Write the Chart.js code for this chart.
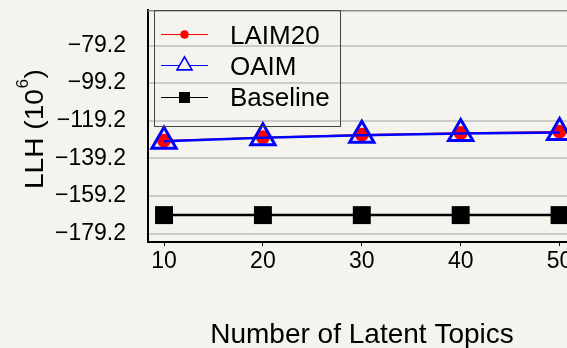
<!DOCTYPE html>
<html><head><meta charset="utf-8">
<script src="https://cdn.jsdelivr.net/npm/chart.js@4/dist/chart.umd.min.js"></script>
<style>
html,body{margin:0;padding:0;background:#f4f3ee;overflow:hidden;width:567px;height:348px}
#wrap{position:relative;width:578px;height:348px}
canvas{display:block}
</style></head><body>
<div id="wrap"><canvas id="c" width="578" height="348"></canvas></div>
<script>
const categories = [10, 20, 30, 40, 50];
const laim20 = [-129.8, -128.0, -126.6, -125.7, -125.0];
const oaim = [-130.1, -128.3, -126.9, -126.0, -125.4];
const baseline = [-169.4, -169.4, -169.4, -169.4, -169.4];
const yTickValues = [-179.2, -159.2, -139.2, -119.2, -99.2, -79.2];
const seriesNames = ['LAIM20', 'OAIM', 'Baseline'];
const xTitle = 'Number of Latent Topics';
const yTitleMain = 'LLH (10';
const yTitleSup = '6';
const yTitleEnd = ')';

const FONT = '"Liberation Sans", Arial, Helvetica, sans-serif';
const toXY = arr => categories.map((c, i) => ({x: c, y: arr[i]}));
const fmt = v => (v < 0 ? '\u2212' : '') + Math.abs(v).toFixed(1);

const styles = [
  {color: '#ff0000', lw: 1.2, ps: 'circle', pr: 7, bg: '#ff0000', pbw: 0, lr: 4.3, lbw: 0, order: 1},
  {color: '#0000ff', lw: 2.5, ps: 'triangle', pr: 14, bg: 'rgba(0,0,0,0)', pbw: 3, lr: 8.7, lbw: 1.6, order: 0},
  {color: '#000000', lw: 2.5, ps: 'rect', pr: 12.7, bg: '#000000', pbw: 0, lr: 7.8, lbw: 0, order: 2}
];
const seriesData = [laim20, oaim, baseline];

function marker(ctx, type, x, y, r, fill, stroke, bw) {
  ctx.beginPath();
  if (type === 'circle') {
    ctx.arc(x, y, r, 0, Math.PI * 2);
  } else if (type === 'triangle') {
    for (let k = 0; k < 3; k++) {
      const a = k * 2 * Math.PI / 3;
      const px = x + Math.sin(a) * r, py = y - Math.cos(a) * r;
      k ? ctx.lineTo(px, py) : ctx.moveTo(px, py);
    }
    ctx.closePath();
  } else {
    const s = r * Math.SQRT1_2;
    ctx.rect(x - s, y - s, 2 * s, 2 * s);
  }
  if (fill) { ctx.fillStyle = fill; ctx.fill(); }
  if (bw) { ctx.lineWidth = bw; ctx.strokeStyle = stroke; ctx.stroke(); }
}

const decor = {
  id: 'decor',
  afterDraw(chart) {
    const ctx = chart.ctx, a = chart.chartArea;
    ctx.save();
    // top frame line
    ctx.strokeStyle = '#8c8c8c'; ctx.lineWidth = 1.5;
    ctx.beginPath(); ctx.moveTo(a.left, a.top + 0.75); ctx.lineTo(a.right, a.top + 0.75); ctx.stroke();
    // legend box
    ctx.strokeStyle = '#444'; ctx.lineWidth = 1;
    ctx.strokeRect(154.5, 10.5, 186, 116);
    const rows = [34, 65, 97], bases = [44.3, 75, 106];
    ctx.font = '26px ' + FONT; ctx.textBaseline = 'alphabetic'; ctx.textAlign = 'left';
    seriesNames.forEach((n, i) => {
      const s = styles[i];
      ctx.strokeStyle = s.color; ctx.lineWidth = 1;
      ctx.beginPath(); ctx.moveTo(161, rows[i] + 0.5); ctx.lineTo(208, rows[i] + 0.5); ctx.stroke();
      marker(ctx, s.ps, 184.5, rows[i] + 0.5, s.lr, s.ps === 'triangle' ? '#f4f3ee' : s.bg, s.color, s.lbw);
      ctx.fillStyle = '#000';
      ctx.fillText(n, 230, bases[i]);
    });
    // x title
    ctx.font = '28px ' + FONT; ctx.textAlign = 'center'; ctx.fillStyle = '#000';
    ctx.fillText(xTitle, 362, 343);
    // y title rotated with superscript
    ctx.translate(43.3, 189);
    ctx.rotate(-Math.PI / 2);
    ctx.scale(1.08, 1);
    ctx.textAlign = 'left';
    ctx.font = '26px ' + FONT;
    const w1 = ctx.measureText(yTitleMain).width;
    ctx.fillText(yTitleMain, 0, 0);
    ctx.font = '16px ' + FONT;
    const w2 = ctx.measureText(yTitleSup).width;
    ctx.fillText(yTitleSup, w1 + 0.5, -15);
    ctx.font = '26px ' + FONT;
    ctx.fillText(yTitleEnd, w1 + w2 + 1, 0);
    ctx.restore();
  }
};

new Chart(document.getElementById('c'), {
  type: 'line',
  data: {
    datasets: seriesNames.map((n, i) => ({
      label: n,
      data: toXY(seriesData[i]),
      borderColor: styles[i].color,
      borderWidth: styles[i].lw,
      pointStyle: styles[i].ps,
      pointRadius: styles[i].pr,
      pointBackgroundColor: styles[i].bg,
      pointBorderColor: styles[i].color,
      pointBorderWidth: styles[i].pbw,
      tension: 0,
      fill: false,
      clip: false,
      order: styles[i].order
    }))
  },
  options: {
    responsive: false,
    devicePixelRatio: 1,
    animation: false,
    layout: {autoPadding: false, padding: {top: 10, right: 2, left: 0, bottom: 0}},
    plugins: {legend: {display: false}, tooltip: {enabled: false}},
    scales: {
      x: {
        type: 'linear',
        min: 8.38, max: 51.66,
        afterFit: s => { s.height = 106; s.paddingLeft = 0; s.paddingRight = 0; },
        afterBuildTicks: s => { s.ticks = categories.map(v => ({value: v})); },
        grid: {drawOnChartArea: false, drawTicks: true, tickLength: 4, color: '#000', tickWidth: 1},
        border: {display: true, color: '#000', width: 2},
        ticks: {font: {family: FONT, size: 23}, color: '#000', padding: 2, maxRotation: 0,
          callback: v => String(v)}
      },
      y: {
        type: 'linear',
        min: -183.7, max: -60.3,
        afterFit: s => { s.width = 148; s.paddingTop = 0; s.paddingBottom = 0; },
        afterBuildTicks: s => { s.ticks = yTickValues.map(v => ({value: v})); },
        grid: {drawTicks: false, color: '#cbcbcb', lineWidth: 2},
        border: {display: true, color: '#000', width: 2},
        ticks: {font: {family: FONT, size: 23}, color: '#000', padding: 22, callback: v => fmt(v)}
      }
    }
  },
  plugins: [decor]
});
</script>
</body></html>
